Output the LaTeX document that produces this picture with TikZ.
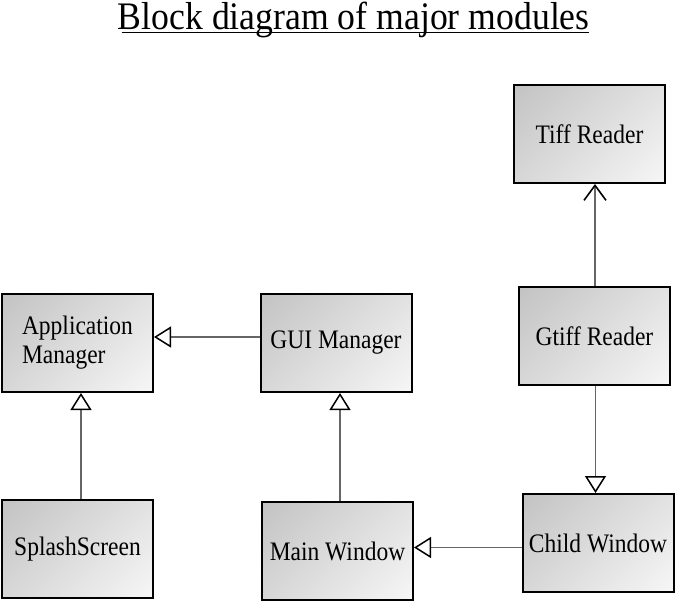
\documentclass[tikz,border=0pt]{standalone}
\usepackage{fontspec}
\setmainfont{Liberation Serif}
\newfontfamily\titlefont[FakeStretch=0.915]{Liberation Serif}
\newfontfamily\boxfont[FakeStretch=0.88]{Liberation Serif}
\usetikzlibrary{positioning}
\usetikzlibrary{arrows.meta}
\usetikzlibrary{calc}
\pgfdeclareverticalshading{boxgrad}{100bp}{color(0bp)=(gray!7); color(15bp)=(gray!7); color(85bp)=(gray!47); color(100bp)=(gray!47)}
\tikzset{mod/.style={draw, line width=2pt, minimum width=151pt, minimum height=98pt, inner sep=2pt,
  shade, shading=boxgrad, shading angle=45, align=left,
  font=\boxfont\fontsize{26.7}{29}\selectfont}}
\tikzset{inh/.style={draw=gray!80!black, line width=1.2pt,
  -{Triangle[length=17pt, width=21pt, line width=1.5pt, color=black, fill=white]}}}
\tikzset{uses/.style={draw=gray!80!black, line width=1.2pt,
  -{Straight Barb[length=15pt, width=22pt, line width=1.6pt, color=black]}}}

\begin{document}
\begin{tikzpicture}[on grid]
        \useasboundingbox (0,0) rectangle (675pt,-602pt);

        \node[font=\titlefont\fontsize{39}{44}\selectfont, inner sep=0pt, anchor=base] (title) at (353.8pt,-29.5pt) {Block diagram of major modules};
        \draw[line width=1pt] ([xshift=4pt,yshift=-3.5pt]title.base west) -- ([xshift=-1pt,yshift=-3.5pt]title.base east);

        \node[mod] (app) at (77.5pt,-343pt) {Application\\Manager};
        \node[mod, right=258.5pt of app] (gui) {GUI Manager};
        \node[mod, below=206pt of app] (splash) {SplashScreen};
        \node[mod, right=260pt of splash, yshift=-2pt] (main) {Main Window};
        \node[mod, right=258.5pt of gui, yshift=7pt] (gtiff) {Gtiff Reader};
        \node[mod, above=202pt of gtiff, xshift=-5pt] (tiff) {Tiff Reader};
        \node[mod, below=207pt of gtiff, xshift=3.5pt] (child) {Child Window};

        \draw[inh] ([yshift=6pt]gui.west) -- ([yshift=6pt]gui.west -| app.east);
        \draw[inh] ([xshift=3.5pt]splash.north) -- ([xshift=3.5pt]splash.north |- app.south);
        \draw[inh] ([xshift=2.5pt]main.north) -- ([xshift=2.5pt]main.north |- gui.south);
        \draw[inh] ([yshift=-4.5pt]child.west) -- ([yshift=-4.5pt]child.west -| main.east);
        \draw[inh] ([xshift=1pt]gtiff.south) -- ([xshift=1pt]gtiff.south |- child.north);
        \draw[uses] ([xshift=0.5pt]gtiff.north) -- ([xshift=0.5pt]gtiff.north |- tiff.south);
    \end{tikzpicture}
\end{document}
